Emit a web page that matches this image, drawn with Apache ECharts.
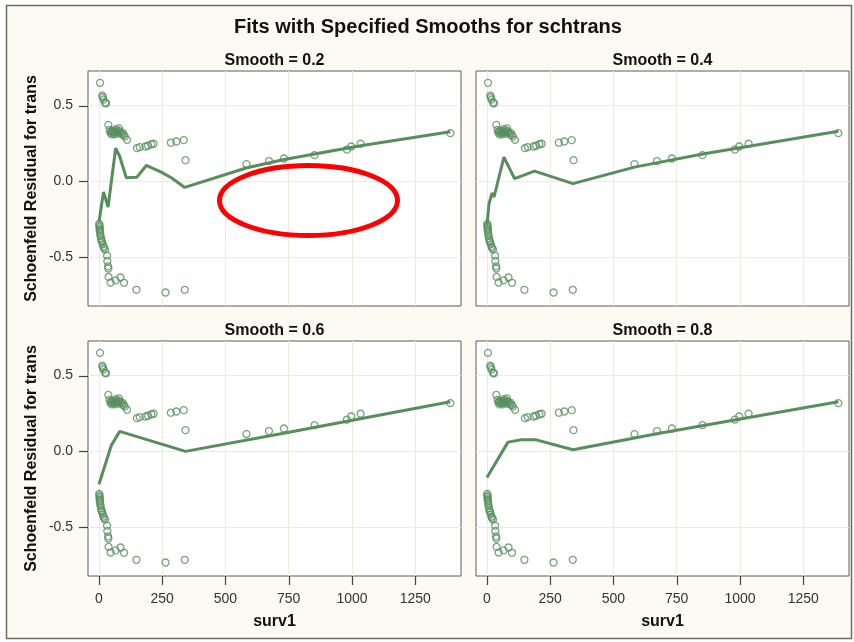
<!DOCTYPE html>
<html>
<head>
<meta charset="utf-8">
<script src="https://cdn.jsdelivr.net/npm/echarts@6/dist/echarts.min.js"></script>
<style>
html,body{margin:0;padding:0;background:#ffffff;}
#chart{width:854px;height:642px;}
</style>
</head>
<body>
<div id="chart"></div>
<script>
// ---- data ----
const chartTitle = 'Fits with Specified Smooths for schtrans';
const panelTitles = ['Smooth = 0.2', 'Smooth = 0.4', 'Smooth = 0.6', 'Smooth = 0.8'];
const xAxisTitle = 'surv1';
const yAxisTitle = 'Schoenfeld Residual for trans';
const xTicks = [0, 250, 500, 750, 1000, 1250];
const yTicks = [-0.5, 0.0, 0.5];
const xRange = [-43.4, 1431];
const yRange = [-0.822, 0.728];

// scatter: Schoenfeld residuals
const surv1 = [1, 2, 2, 3, 3, 4, 5, 6, 8, 10, 12, 15, 18, 20, 24, 32, 33, 36, 37, 38, 46, 66, 85, 99, 148, 263, 339,
  4, 13, 15, 18, 24, 28, 37,
  42, 45, 48, 50, 53, 56, 58, 61, 64, 67, 70, 73, 76, 79, 82, 86, 90, 94, 98, 102, 111,
  150, 161, 184, 194, 207, 216, 284, 306, 335, 342, 583, 672, 731, 852, 980, 997, 1034, 1389];
const residTrans = [-0.28, -0.29, -0.30, -0.31, -0.32, -0.33, -0.345, -0.36, -0.375, -0.39, -0.40, -0.415, -0.43, -0.44, -0.45, -0.49, -0.525, -0.56, -0.575, -0.63, -0.667, -0.653, -0.634, -0.669, -0.715, -0.733, -0.715,
  0.65, 0.566, 0.555, 0.54, 0.518, 0.515, 0.373,
  0.34, 0.32, 0.33, 0.31, 0.325, 0.335, 0.32, 0.31, 0.33, 0.345, 0.325, 0.315, 0.335, 0.35, 0.33, 0.32, 0.31, 0.32, 0.305, 0.295, 0.274,
  0.219, 0.226, 0.23, 0.235, 0.245, 0.248, 0.255, 0.263, 0.272, 0.14, 0.114, 0.134, 0.151, 0.173, 0.21, 0.23, 0.248, 0.318];

// loess fits
const fitX02 = [0, 18, 36, 66, 82, 108, 150, 187, 246, 286, 339, 582, 727, 852, 1034, 1389];
const fitY02 = [-0.268, -0.07, -0.169, 0.219, 0.164, 0.024, 0.028, 0.105, 0.061, 0.024, -0.04, 0.088, 0.143, 0.18, 0.235, 0.327];
const fitX04 = [0, 8, 20, 28, 67, 109, 188, 340, 583, 853, 1389];
const fitY04 = [-0.29, -0.147, -0.077, -0.103, 0.16, 0.018, 0.068, -0.015, 0.094, 0.18, 0.331];
const fitX06 = [0, 49, 82, 342, 714, 1389];
const fitY06 = [-0.217, 0.04, 0.132, 0.0, 0.114, 0.327];
const fitX08 = [0, 83, 136, 195, 340, 682, 1389];
const fitY08 = [-0.173, 0.061, 0.076, 0.076, 0.011, 0.12, 0.327];

// ---- build ----
const fitsX = [fitX02, fitX04, fitX06, fitX08];
const fitsY = [fitY02, fitY04, fitY06, fitY08];
const green = '#578E5C';
const gridPos = [
  {left: 88, top: 71}, {left: 476, top: 71},
  {left: 88, top: 341}, {left: 476, top: 341}
];
const pw = 373, ph = 235;
const tickLen = 9;
const fontFam = '"Liberation Sans", Arial, sans-serif';
const frameColor = '#5f5f55';

const scatterData = surv1.map((x, i) => [x, residTrans[i]]);

const grids = [], xAxes = [], yAxes = [], series = [];
gridPos.forEach((g, i) => {
  grids.push({left: g.left, top: g.top, width: pw, height: ph, show: true,
    backgroundColor: '#ffffff', borderColor: frameColor, borderWidth: 1, containLabel: false});
  const showX = i >= 2, showY = (i % 2 === 0);
  xAxes.push({
    type: 'value', gridIndex: i, min: xRange[0], max: xRange[1], position: 'bottom',
    axisLine: {show: false, onZero: false},
    axisTick: {show: false, customValues: xTicks},
    axisLabel: {show: showX, customValues: xTicks, margin: 16, color: '#333', fontSize: 14, fontFamily: fontFam,
      formatter: v => String(v)},
    splitLine: {show: true, lineStyle: {color: '#ECECDA', width: 1}}
  });
  yAxes.push({
    type: 'value', gridIndex: i, min: yRange[0], max: yRange[1], position: 'left',
    axisLine: {show: false, onZero: false},
    axisTick: {show: false, customValues: yTicks},
    axisLabel: {show: showY, customValues: yTicks, margin: 15, color: '#333', fontSize: 14, fontFamily: fontFam,
      formatter: v => v.toFixed(1)},
    splitLine: {show: true, lineStyle: {color: '#ECECDA', width: 1}}
  });
  series.push({
    type: 'scatter', xAxisIndex: i, yAxisIndex: i, data: scatterData,
    symbol: 'circle', symbolSize: 7,
    itemStyle: {color: 'rgba(0,0,0,0)', borderColor: green, borderWidth: 1.3},
    silent: true, z: 3
  });
  series.push({
    type: 'line', xAxisIndex: i, yAxisIndex: i,
    data: fitsX[i].map((x, k) => [x, fitsY[i][k]]),
    showSymbol: false, symbol: 'none', smooth: false,
    lineStyle: {color: green, width: 3}, silent: true, z: 4
  });
  // outer tick marks, placed through the axes' own scales
  if (showX) {
    series.push({
      type: 'custom', xAxisIndex: i, yAxisIndex: i, clip: false, silent: true, z: 10,
      data: xTicks.map(v => [v, yRange[0]]),
      renderItem: (params, api) => {
        const p = api.coord([api.value(0), api.value(1)]);
        const x = Math.round(p[0]) + 0.5;
        return {type: 'line', shape: {x1: x, y1: p[1], x2: x, y2: p[1] + tickLen},
          style: {stroke: '#444', lineWidth: 1.2}};
      }
    });
  }
  if (showY) {
    series.push({
      type: 'custom', xAxisIndex: i, yAxisIndex: i, clip: false, silent: true, z: 10,
      data: yTicks.map(v => [xRange[0], v]),
      renderItem: (params, api) => {
        const p = api.coord([api.value(0), api.value(1)]);
        const y = Math.round(p[1]) + 0.5;
        return {type: 'line', shape: {x1: p[0] - tickLen, y1: y, x2: p[0], y2: y},
          style: {stroke: '#444', lineWidth: 1.2}};
      }
    });
  }
});

const graphics = [
  // white margin outside the outer frame
  {type: 'rect', shape: {x: 0, y: 0, width: 854, height: 5}, style: {fill: '#ffffff'}, silent: true},
  {type: 'rect', shape: {x: 0, y: 639, width: 854, height: 3}, style: {fill: '#ffffff'}, silent: true},
  {type: 'rect', shape: {x: 0, y: 0, width: 6, height: 642}, style: {fill: '#ffffff'}, silent: true},
  {type: 'rect', shape: {x: 852, y: 0, width: 2, height: 642}, style: {fill: '#ffffff'}, silent: true},
  {type: 'rect', shape: {x: 6.5, y: 5.5, width: 845, height: 633}, style: {fill: 'none', stroke: '#6b6b62', lineWidth: 1.5}, silent: true},
  {type: 'text', x: 428, y: 27, style: {text: chartTitle, fill: '#111', font: 'bold 20px ' + fontFam, textAlign: 'center', textVerticalAlign: 'middle'}},
];
panelTitles.forEach((t, i) => {
  graphics.push({type: 'text', x: gridPos[i].left + pw / 2, y: gridPos[i].top - 10,
    style: {text: t, fill: '#111', font: 'bold 16px ' + fontFam, textAlign: 'center', textVerticalAlign: 'middle'}});
});
[0, 1].forEach(r => {
  graphics.push({type: 'text', x: 32, y: gridPos[r * 2].top + ph / 2, rotation: Math.PI / 2,
    style: {text: yAxisTitle, fill: '#111', font: 'bold 16px ' + fontFam, textAlign: 'center', textVerticalAlign: 'middle'}});
  graphics.push({type: 'text', x: gridPos[2 + r].left + pw / 2, y: 622,
    style: {text: xAxisTitle, fill: '#111', font: 'bold 16px ' + fontFam, textAlign: 'center', textVerticalAlign: 'middle'}});
});
graphics.push({type: 'ellipse', shape: {cx: 308.5, cy: 200.5, rx: 89, ry: 35},
  style: {fill: 'none', stroke: '#FF0000', lineWidth: 5}, z: 100, silent: true});

const chart = echarts.init(document.getElementById('chart'), null, {renderer: 'canvas'});
chart.setOption({
  animation: false,
  backgroundColor: '#FDFAF4',
  grid: grids, xAxis: xAxes, yAxis: yAxes, series: series,
  graphic: {elements: graphics}
});
</script>
</body>
</html>
